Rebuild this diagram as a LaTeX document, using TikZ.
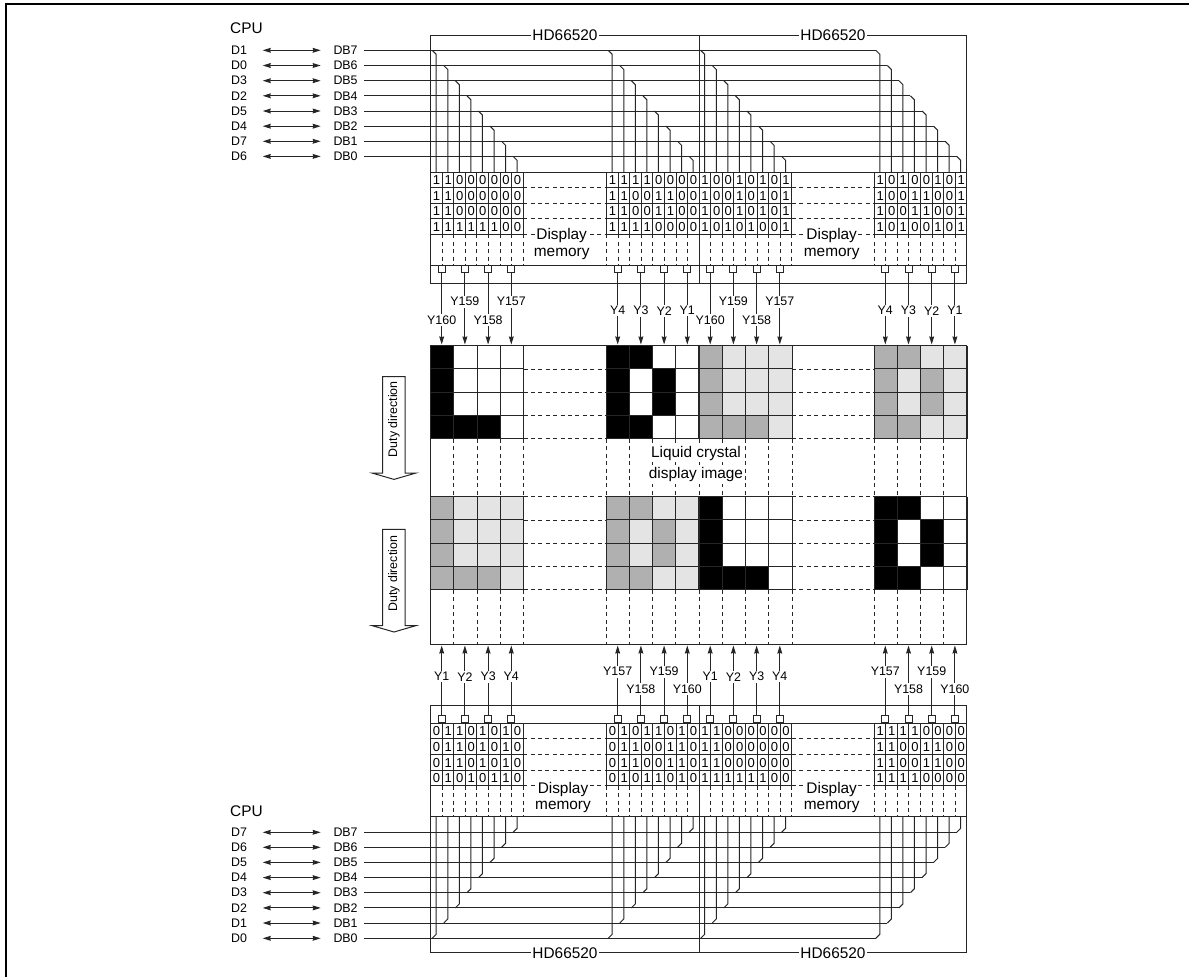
\documentclass[tikz,border=0pt]{standalone}
\usepackage{fontspec}
\setmainfont{Liberation Sans}
\usetikzlibrary{arrows.meta}
\definecolor{cellk}{HTML}{000000}
\definecolor{celld}{HTML}{B0B0B0}
\definecolor{celll}{HTML}{E4E4E4}
\definecolor{cellw}{HTML}{FFFFFF}
\tikzset{
  ln/.style={line width=1pt,draw=black!85},
  dsh/.style={line width=1pt,draw=black!85,dash pattern=on 4pt off 3.4pt},
  arr/.style={ln,-{Stealth[length=8pt,width=4.8pt,inset=0.6pt]}},
  darr/.style={ln,{Stealth[length=8pt,width=4.8pt,inset=0.6pt]}-{Stealth[length=8pt,width=4.8pt,inset=0.6pt]}},
  bit/.style={font=\fontsize{13}{14}\selectfont,inner sep=0pt},
  small/.style={font=\fontsize{12.4}{14}\selectfont,inner sep=0pt},
  smw/.style={font=\fontsize{12.4}{14}\selectfont,inner sep=1.5pt,fill=white},
  big/.style={font=\fontsize{15.4}{18}\selectfont,inner sep=1.5pt,fill=white},
  pinbox/.style={ln,fill=white,minimum width=7pt,minimum height=7pt,inner sep=0pt,anchor=north},
  pinup/.style={ln,fill=white,minimum width=7pt,minimum height=7pt,inner sep=0pt,anchor=south},
}
\newcommand{\memgrid}[3]{% name, x0, rows
  \foreach \bits [count=\r from 0] in {#3}{
    \foreach \b [count=\c from 0] in \bits{
      \pgfmathsetmacro{\cx}{#2+11.56*\c+5.9}
      \pgfmathsetmacro{\cy}{\myT+15.6*\r+8.1}
      \node[bit] (m#1r\r c\c) at (\cx,\cy) {\b};
    }
  }
}
\newcommand{\memlines}[2]{% x0, ytop
  \foreach \i in {0,...,4}{
    \pgfmathsetmacro{\yy}{#2+15.6*\i}
    \draw[ln] (#1,\yy) -- +(92.5,0);
  }
  \foreach \i in {0,...,8}{
    \pgfmathsetmacro{\xx}{#1+11.56*\i}
    \draw[ln] (\xx,#2) -- +(0,62.4);
  }
}
\newcommand{\memdash}[2]{% x0, y start
  \foreach \i in {0,...,8}{
    \pgfmathsetmacro{\xx}{#1+11.56*\i}
    \draw[dsh] (\xx,#2) -- +(0,31);
  }
}
\newcommand{\lcdblock}[4]{% name x0 ytop rows
  \foreach \row [count=\r from 0] in {#4}{
    \foreach \c [count=\k from 0] in \row{
      \pgfmathsetmacro{\xx}{#2+23.2*\k}
      \pgfmathsetmacro{\yy}{#3+23.25*\r}
      \fill[fill=cell\c] (\xx,\yy) rectangle +(23.2,23.25);
    }
  }
  \foreach \i in {0,...,4}{
    \pgfmathsetmacro{\xx}{#2+23.2*\i}
    \draw[ln] (\xx,#3) -- +(0,93);
    \pgfmathsetmacro{\yy}{#3+23.25*\i}
    \draw[ln] (#2,\yy) -- +(92.8,0);
  }
}
\begin{document}
\begin{tikzpicture}[x=1pt,y=-1pt]
\useasboundingbox (0,0) rectangle (1189,977);
\fill[white] (0,0) rectangle (1189,977);
\draw[line width=2.1pt,black] (6,977) -- (6,4) -- (1189,4);
% ---------- chips
\foreach \nm/\xa/\xb in {L/430.7/699.2,R/699.2/966.8}{
  \draw[ln] (\xa,35) rectangle (\xb,283);
  \draw[ln] (\xa,705) rectangle (\xb,952.7);
}
\draw[ln] (430.7,172) -- (966.8,172);
\draw[ln] (430.7,265.3) -- (966.8,265.3);
\draw[ln] (430.7,723.3) -- (966.8,723.3);
\draw[ln] (430.7,816.7) -- (966.8,816.7);
% ---------- bus top
\foreach \yy/\cpu/\db [count=\i from 0] in {50.3/D1/DB7,65.5/D0/DB6,80.7/D3/DB5,95.8/D2/DB4,111/D5/DB3,126.2/D4/DB2,141.3/D7/DB1,156.4/D6/DB0}{
  \node[small,anchor=west] (cpuT\i) at (231,\yy) {\cpu};
  \node[small,anchor=west] (dbT\i) at (333.3,\yy) {\db};
  \coordinate (caT\i) at (262.7,\yy);
  \coordinate (cbT\i) at (320.7,\yy);
  \draw[darr] (caT\i) -- (cbT\i);
  \pgfmathsetmacro{\xd}{874.3+5.5+11.56*\i}
  \coordinate (endT\i) at (\xd-4,\yy);
  \coordinate (stT\i) at (364.3,\yy);
  \draw[ln] (stT\i) -- (endT\i);
  \foreach \bx in {430.7,606.7,699.2,874.3}{
    \pgfmathsetmacro{\xb}{\bx+5.5+11.56*\i}
    \draw[ln] (\xb-4,\yy) -- (\xb,\yy+4) -- (\xb,172);
  }
}
% ---------- bus bottom
\foreach \yy/\cpu/\db [count=\i from 0] in {832.3/D7/DB7,847.3/D6/DB6,862.4/D5/DB5,877.6/D4/DB4,892.7/D3/DB3,907.9/D2/DB2,923/D1/DB1,938.3/D0/DB0}{
  \node[small,anchor=west] (cpuB\i) at (231,\yy) {\cpu};
  \node[small,anchor=west] (dbB\i) at (333.3,\yy) {\db};
  \coordinate (caB\i) at (262.7,\yy);
  \coordinate (cbB\i) at (320.7,\yy);
  \draw[darr] (caB\i) -- (cbB\i);
  \pgfmathsetmacro{\xd}{874.3+5.5+11.56*(7-\i)}
  \coordinate (endB\i) at (\xd-4,\yy);
  \coordinate (stB\i) at (364.3,\yy);
  \draw[ln] (stB\i) -- (endB\i);
  \foreach \bx in {430.7,606.7,699.2,874.3}{
    \pgfmathsetmacro{\xb}{\bx+5.5+11.56*(7-\i)}
    \draw[ln] (\xb-4,\yy) -- (\xb,\yy-4) -- (\xb,816.7);
  }
}
% ---------- memory
\foreach \bx in {430.7,606.7,699.2,874.3}{
  \memlines{\bx}{172}
  \memdash{\bx}{234.3}
  \memlines{\bx}{723.3}
  \memdash{\bx}{785.7}
}
\foreach \gx in {523.2,791.7}{
  \foreach \yy in {187.6,203.2,218.8,234.4,738.9,754.5,770.1,785.7}{
    \pgfmathsetmacro{\gxe}{\gx+83}
    \draw[dsh] (\gx,\yy) -- (\gxe,\yy);
  }
}
\def\myT{172}
\memgrid{TA}{430.7}{{1,1,0,0,0,0,0,0},{1,1,0,0,0,0,0,0},{1,1,0,0,0,0,0,0},{1,1,1,1,1,1,0,0}}
\memgrid{TB}{606.7}{{1,1,1,1,0,0,0,0},{1,1,0,0,1,1,0,0},{1,1,0,0,1,1,0,0},{1,1,1,1,0,0,0,0}}
\memgrid{TC}{699.2}{{1,0,0,1,0,1,0,1},{1,0,0,1,0,1,0,1},{1,0,0,1,0,1,0,1},{1,0,1,0,1,0,0,1}}
\memgrid{TD}{874.3}{{1,0,1,0,0,1,0,1},{1,0,0,1,1,0,0,1},{1,0,0,1,1,0,0,1},{1,0,1,0,0,1,0,1}}
\def\myT{723.3}
\memgrid{BA}{430.7}{{0,1,1,0,1,0,1,0},{0,1,1,0,1,0,1,0},{0,1,1,0,1,0,1,0},{0,1,0,1,0,1,1,0}}
\memgrid{BB}{606.7}{{0,1,0,1,1,0,1,0},{0,1,1,0,0,1,1,0},{0,1,1,0,0,1,1,0},{0,1,0,1,1,0,1,0}}
\memgrid{BC}{699.2}{{1,1,0,0,0,0,0,0},{1,1,0,0,0,0,0,0},{1,1,0,0,0,0,0,0},{1,1,1,1,1,1,0,0}}
\memgrid{BD}{874.3}{{1,1,1,1,0,0,0,0},{1,1,0,0,1,1,0,0},{1,1,0,0,1,1,0,0},{1,1,1,1,0,0,0,0}}
% ---------- LCD
\foreach \gx in {523.5,791.9}{
  \foreach \yy in {369,392.2,415.5,438.7,496.7,520,543.2,566.5,589.7}{
    \pgfmathsetmacro{\gxe}{\gx+82.3}
    \draw[dsh] (\gx,\yy) -- (\gxe,\yy);
  }
}
\foreach \xx in {453.9,477.1,500.3,523.5,606,629.2,652.4,675.6,699.2,722.4,745.6,768.8,792,874.3,897.5,920.7,943.9}{
  \draw[dsh] (\xx,439) -- (\xx,496.7);
  \draw[dsh] (\xx,590) -- (\xx,644.3);
}
\lcdblock{a}{430.7}{345.7}{{k,w,w,w},{k,w,w,w},{k,w,w,w},{k,k,k,w}}
\lcdblock{b}{606}{345.7}{{k,k,w,w},{k,w,k,w},{k,w,k,w},{k,k,w,w}}
\lcdblock{c}{699.2}{345.7}{{d,l,l,l},{d,l,l,l},{d,l,l,l},{d,d,d,l}}
\lcdblock{d}{874.3}{345.7}{{d,d,l,l},{d,l,d,l},{d,l,d,l},{d,d,l,l}}
\lcdblock{e}{430.7}{496.7}{{d,l,l,l},{d,l,l,l},{d,l,l,l},{d,d,d,l}}
\lcdblock{f}{606}{496.7}{{d,d,l,l},{d,l,d,l},{d,l,d,l},{d,d,l,l}}
\lcdblock{g}{699.2}{496.7}{{k,w,w,w},{k,w,w,w},{k,w,w,w},{k,k,k,w}}
\lcdblock{h}{874.3}{496.7}{{k,k,w,w},{k,w,k,w},{k,w,k,w},{k,k,w,w}}
\draw[ln] (430.7,345.7) rectangle (966.8,644.3);
% ---------- pins and arrows (top)
\foreach \bx/\bn in {430.7/A,606.7/B,699.2/C,874.3/D}{
  \foreach \i in {0,...,3}{
    \pgfmathsetmacro{\px}{\bx+11+23.2*\i}
    \node[pinbox] (pt\bn\i) at (\px,265.3) {};
    \coordinate (lt\bn\i) at (\px,344.5);
    \draw[arr] (pt\bn\i.south) -- (lt\bn\i);
    \node[pinup] (pb\bn\i) at (\px,723.3) {};
    \coordinate (lb\bn\i) at (\px,645.5);
    \draw[arr] (pb\bn\i.north) -- (lb\bn\i);
  }
}
\foreach \bn in {A,C}{
  \node[smw] (ltt\bn0) at (pt\bn0.south |- 0,320) {Y160};
  \node[smw] (ltt\bn1) at (pt\bn1.south |- 0,301.7) {Y159};
  \node[smw] (ltt\bn2) at (pt\bn2.south |- 0,320) {Y158};
  \node[smw] (ltt\bn3) at (pt\bn3.south |- 0,301.7) {Y157};
  \node[smw] (lbb\bn0) at (pb\bn0.north |- 0,676.7) {Y1};
  \node[smw] (lbb\bn1) at (pb\bn1.north |- 0,676.7) {Y2};
  \node[smw] (lbb\bn2) at (pb\bn2.north |- 0,676.7) {Y3};
  \node[smw] (lbb\bn3) at (pb\bn3.north |- 0,676.7) {Y4};
}
\foreach \bn in {B,D}{
  \node[smw] (ltt\bn0) at (pt\bn0.south |- 0,310.7) {Y4};
  \node[smw] (ltt\bn1) at (pt\bn1.south |- 0,310.7) {Y3};
  \node[smw] (ltt\bn2) at (pt\bn2.south |- 0,310.7) {Y2};
  \node[smw] (ltt\bn3) at (pt\bn3.south |- 0,310.7) {Y1};
  \node[smw] (lbb\bn0) at (pb\bn0.north |- 0,671.7) {Y157};
  \node[smw] (lbb\bn1) at (pb\bn1.north |- 0,689) {Y158};
  \node[smw] (lbb\bn2) at (pb\bn2.north |- 0,671.7) {Y159};
  \node[smw] (lbb\bn3) at (pb\bn3.north |- 0,689) {Y160};
}
% ---------- labels
\node[big,anchor=west,fill=none,inner sep=0pt] (cpuTop) at (230,28) {CPU};
\node[big,anchor=west,fill=none,inner sep=0pt] (cpuBot) at (230,810.7) {CPU};
\foreach \nm/\xx in {a/565,b/833}{
  \node[big] (hdT\nm) at (\xx,35) {HD66520};
  \node[big] (hdB\nm) at (\xx,952.7) {HD66520};
}
\foreach \nm/\xx/\yy/\tx in {a/561.7/236/Display,b/561.7/254/memory,c/831.7/236/Display,d/831.7/254/memory,e/563/790/Display,f/563/807/memory,g/831.7/790/Display,h/831.7/807/memory}{
  \node[big] (dm\nm) at (\xx,\yy) {\tx};
}
\node[big] (lc1) at (696,453.5) {Liquid crystal};
\node[big] (lc2) at (696,475) {display image};
% ---------- duty arrows
\foreach \t/\dd/\nm in {376.7/42.5/u,529.3/44.5/v}{
  \draw[ln,fill=white] (382.7,\t) -- (405,\t) -- (405,\t+96.4) -- (415.7,\t+96.4) -- (394,\t+102.7) -- (372.3,\t+96.4) -- (382.7,\t+96.4) -- cycle;
  \node[small,rotate=90] (duty\nm) at (394,\t+\dd) {Duty direction};
}
\end{tikzpicture}
\end{document}
